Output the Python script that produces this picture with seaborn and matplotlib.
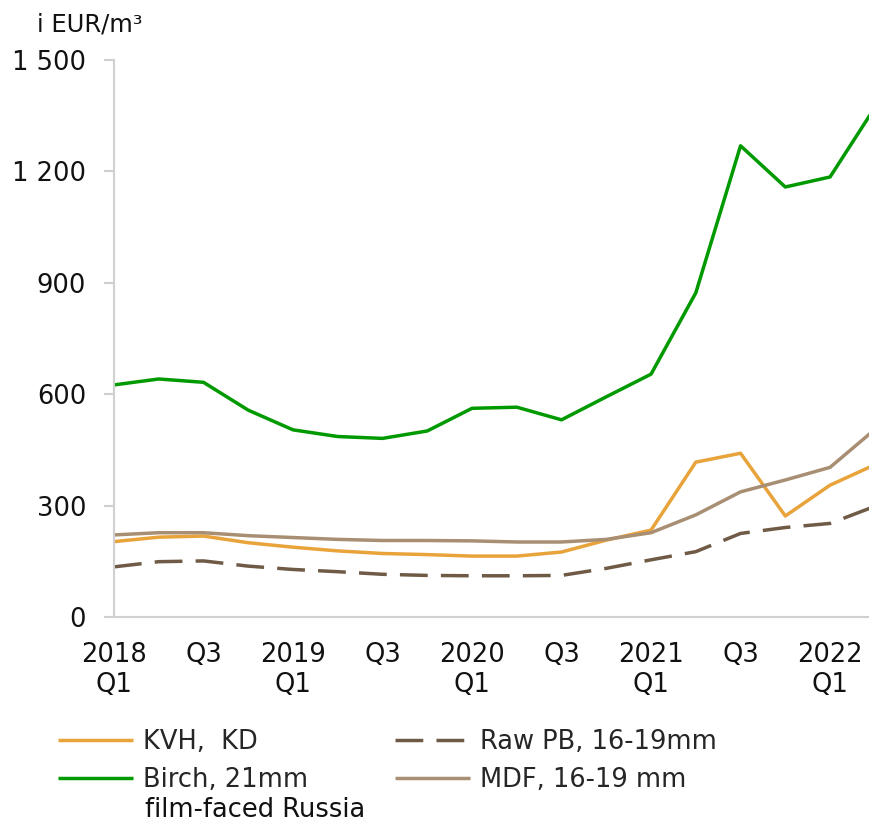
import matplotlib
matplotlib.use("Agg")
import matplotlib.pyplot as plt
import seaborn as sns
import pandas as pd

quarters = ["2018Q1", "2018Q2", "2018Q3", "2018Q4", "2019Q1", "2019Q2", "2019Q3", "2019Q4",
            "2020Q1", "2020Q2", "2020Q3", "2020Q4", "2021Q1", "2021Q2", "2021Q3", "2021Q4",
            "2022Q1", "2022Q2"]
kvh = [203, 215, 218, 200, 188, 178, 171, 168, 164, 164, 175, 207, 234, 417, 441, 272, 355, 410]
birch = [625, 641, 632, 557, 504, 486, 481, 501, 562, 565, 531, 593, 654, 873, 1269, 1158, 1185, 1372]
raw_pb = [135, 149, 151, 137, 128, 122, 115, 112, 111, 111, 112, 131, 154, 176, 225, 241, 252, 298]
mdf = [221, 227, 227, 219, 214, 209, 206, 206, 205, 202, 202, 209, 227, 275, 337, 369, 403, 505]

tick_idx = [0, 2, 4, 6, 8, 10, 12, 14, 16]
tick_labels = ["2018\nQ1", "Q3", "2019\nQ1", "Q3", "2020\nQ1", "Q3", "2021\nQ1", "Q3", "2022\nQ1"]
y_ticks = [0, 300, 600, 900, 1200, 1500]
y_labels = ["0", "300", "600", "900", "1 200", "1 500"]

sns.set_theme(style="white")
plt.rcParams["font.family"] = ["DejaVu Sans"]

fig = plt.figure(figsize=(8.69, 8.22), dpi=100)
ax = fig.add_axes([114 / 869, 1 - 617 / 822, 1 - 114 / 869, (617 - 60) / 822])

idx = list(range(len(quarters)))
series = [
    ("KVH,  KD", kvh, "#E8A33B", ""),
    ("Birch, 21mm", birch, "#009A00", ""),
    ("Raw PB, 16-19mm", raw_pb, "#6E5A45", (8, 3.8)),
    ("MDF, 16-19 mm", mdf, "#A88E72", ""),
]
handles = []
for name, vals, col, dash in series:
    df = pd.DataFrame({"x": idx, "y": vals})
    sns.lineplot(data=df, x="x", y="y", ax=ax, color=col, linewidth=2.5, label=name,
                 legend=False)
    ln = ax.get_lines()[-1]
    if dash:
        ln.set_dashes(dash)
    ln.set_solid_capstyle("butt")
    handles.append(ln)

ax.set_xlim(0, 16.87)
ax.set_ylim(0, 1500)
ax.set_xlabel("")
ax.set_ylabel("")
ax.set_xticks(tick_idx)
ax.set_xticklabels(tick_labels, fontsize=18.5, color="#111111")
ax.set_yticks(y_ticks)
ax.set_yticklabels(y_labels, fontsize=18.5, color="#111111")
ax.tick_params(axis="x", length=0, pad=18)
ax.tick_params(axis="y", length=7, width=1.5, color="#CFCFCF", pad=13, left=True)
for s in ["top", "right"]:
    ax.spines[s].set_visible(False)
for s in ["left", "bottom"]:
    ax.spines[s].set_color("#D0D0D0")
    ax.spines[s].set_linewidth(1.5)
ax.grid(False)

fig.text(37 / 869, 1 - 25 / 822, "i EUR/m³", fontsize=17.5, va="center", ha="left", color="#111111")

fig.legend(handles, [s[0] for s in series], ncol=2, loc="upper left",
           bbox_to_anchor=(58 / 869, 1 - 729 / 822), frameon=False, fontsize=18.5,
           handlelength=2.9, handletextpad=0.4, columnspacing=3.4, labelspacing=0.45,
           borderaxespad=0, borderpad=0)
fig.text(145 / 869, 1 - 810 / 822, "film-faced Russia", fontsize=18.5, va="center", ha="left",
         color="#111111")

fig.savefig("out.png", dpi=100)
